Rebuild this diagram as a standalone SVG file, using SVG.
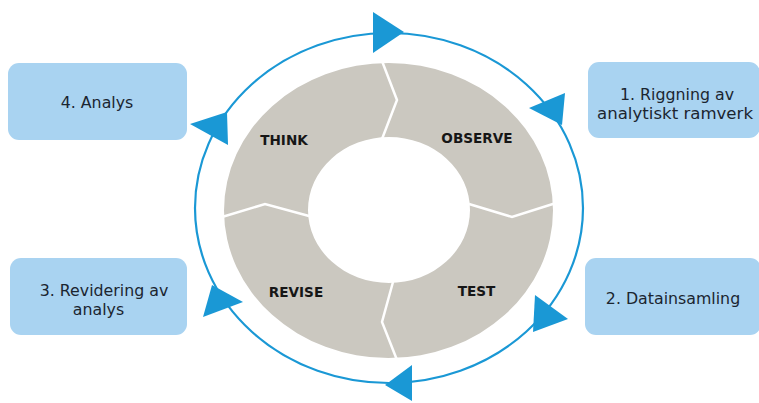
<svg xmlns="http://www.w3.org/2000/svg" width="759" height="403" viewBox="0 0 759 403">
  <style>
    .box { fill: #a9d3f1; }
    .boxtxt { font-family: "DejaVu Sans", Verdana, sans-serif; font-size: 15.8px; fill: #1b2530; text-anchor: middle; }
    .ring { fill: #cbc8c0; fill-rule: evenodd; }
    .divider { fill: none; stroke: #ffffff; stroke-width: 2.5; stroke-linejoin: miter; }
    .phase { font-family: "DejaVu Sans", Verdana, sans-serif; font-size: 13.6px; font-weight: bold; fill: #161616; text-anchor: middle; }
    .cycle { fill: none; stroke: #1a98d5; stroke-width: 2.2; }
    .head { fill: #1a98d5; }
  </style>
  <rect x="0" y="0" width="759" height="403" fill="#ffffff"/>

  <g id="ring">
    <path class="ring" d="M224,210.5 A164.5,147.5 0 1,0 553,210.5 A164.5,147.5 0 1,0 224,210.5 Z M308,210 A81,73 0 1,0 470,210 A81,73 0 1,0 308,210 Z"/>
    <polyline class="divider" points="382,61 397,100 382,139"/>
    <polyline class="divider" points="469,204 512,217 556,203"/>
    <polyline class="divider" points="393,282 382,322 397,360"/>
    <polyline class="divider" points="222,217 265,204 309,216"/>
  </g>

  <g id="phase-think"><text class="phase" x="284" y="145">THINK</text></g>
  <g id="phase-observe"><text class="phase" x="477" y="142.5">OBSERVE</text></g>
  <g id="phase-test"><text class="phase" x="476.5" y="296">TEST</text></g>
  <g id="phase-revise"><text class="phase" x="296" y="296.5">REVISE</text></g>

  <g id="connectors">
    <ellipse class="cycle" cx="389" cy="208" rx="194" ry="175"/>
    <polygon class="head" points="373,12 404,32 373,53"/>
    <polygon class="head" points="529,108 565,93 562,125"/>
    <polygon class="head" points="535,295 568,319 533,332"/>
    <polygon class="head" points="412,365 385,385 412,401"/>
    <polygon class="head" points="212,285 243,302 203,317"/>
    <polygon class="head" points="190,124 227,112 228,145"/>
  </g>

  <g id="step1">
    <rect class="box" x="588" y="62" width="172" height="76" rx="11"/>
    <text class="boxtxt" x="677" y="100">1. Riggning av</text>
    <text class="boxtxt" x="675" y="119" textLength="156" lengthAdjust="spacingAndGlyphs">analytiskt ramverk</text>
  </g>
  <g id="step2">
    <rect class="box" x="585" y="258" width="176" height="77" rx="11"/>
    <text class="boxtxt" x="673" y="304">2. Datainsamling</text>
  </g>
  <g id="step3">
    <rect class="box" x="10" y="258" width="177" height="77" rx="11"/>
    <text class="boxtxt" x="104" y="295.5">3. Revidering av</text>
    <text class="boxtxt" x="98.5" y="314.5">analys</text>
  </g>
  <g id="step4">
    <rect class="box" x="8" y="63" width="179" height="77" rx="11"/>
    <text class="boxtxt" x="97" y="108">4. Analys</text>
  </g>
</svg>
